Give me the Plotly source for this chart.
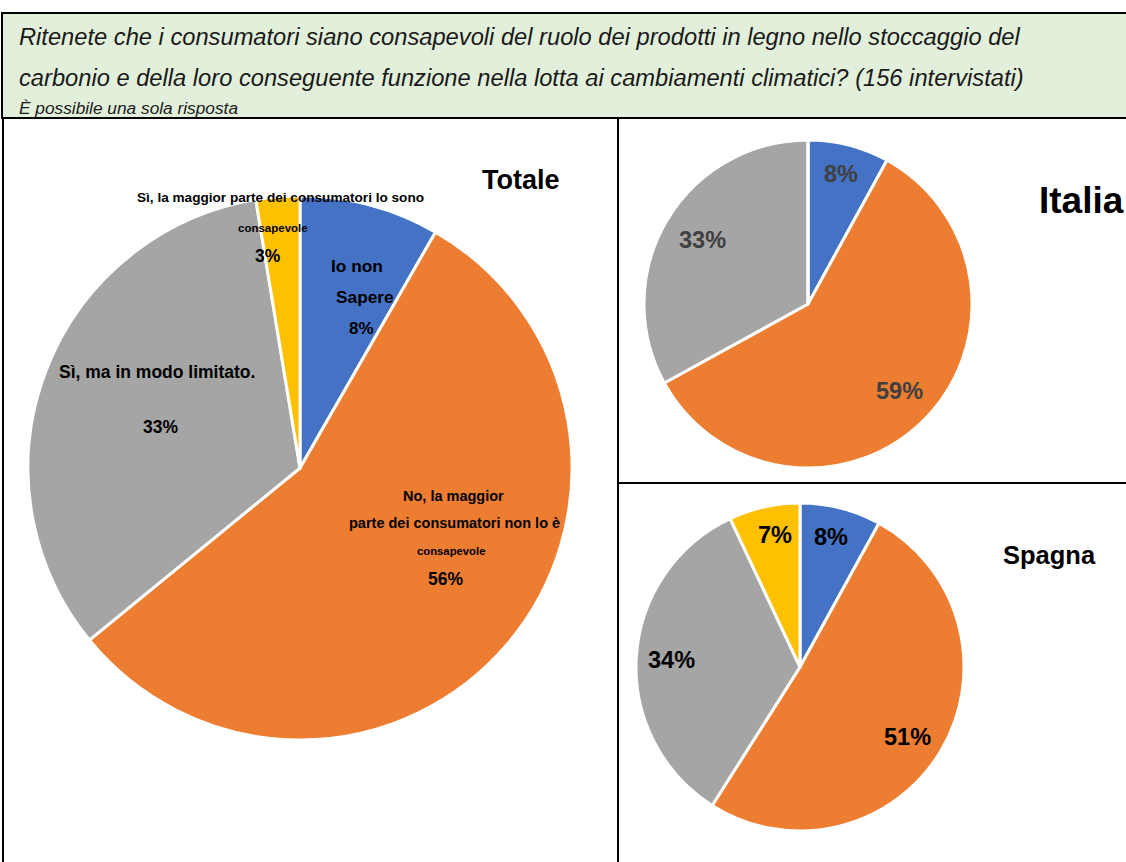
import plotly.graph_objects as go

W, H = 1126, 862

categories = [
    "Io non Sapere",
    "No, la maggior parte dei consumatori non lo è consapevole",
    "Sì, ma in modo limitato.",
    "Sì, la maggior parte dei consumatori lo sono consapevole",
]
colors = ["#4472C4", "#ED7D31", "#A5A5A5", "#FFC000"]
totale = [8.3, 55.8, 33.3, 2.6]
italia = [8, 59, 33, 0]
spagna = [8, 51, 34, 7]

title_l1 = "Ritenete che i consumatori siano consapevoli del ruolo dei prodotti in legno nello stoccaggio del"
title_l2 = "carbonio e della loro conseguente funzione nella lotta ai cambiamenti climatici? (156 intervistati)"
subtitle = "È possibile una sola risposta"

FONT = "Liberation Sans, Arial, sans-serif"


def dom(cx, cy, r):
    return dict(x=[(cx - r) / W, (cx + r) / W], y=[(H - (cy + r)) / H, (H - (cy - r)) / H])


def pct(v):
    return f"{round(v)}%"


fig = go.Figure()
for vals, (cx, cy, r) in [(totale, (300, 468, 272)), (italia, (808, 304, 164)), (spagna, (800, 667, 164))]:
    fig.add_trace(go.Pie(
        labels=categories, values=vals, sort=False, direction="clockwise", rotation=0,
        marker=dict(colors=colors, line=dict(color="white", width=3)),
        textinfo="none", hoverinfo="label+percent", showlegend=False,
        domain=dom(cx, cy, r),
    ))

shapes = [
    dict(type="rect", xref="paper", yref="paper", x0=2 / W, x1=1.01, y0=(H - 118) / H, y1=(H - 13) / H,
         fillcolor="#E2EFDA", line=dict(color="black", width=2), layer="below"),
    dict(type="rect", xref="paper", yref="paper", x0=3 / W, x1=618 / W, y0=-0.01, y1=(H - 118) / H,
         line=dict(color="black", width=2), fillcolor="rgba(0,0,0,0)"),
    dict(type="rect", xref="paper", yref="paper", x0=618 / W, x1=1.01, y0=-0.01, y1=(H - 118) / H,
         line=dict(color="black", width=2), fillcolor="rgba(0,0,0,0)"),
    dict(type="line", xref="paper", yref="paper", x0=618 / W, x1=1.01, y0=(H - 483) / H, y1=(H - 483) / H,
         line=dict(color="black", width=2)),
]

ann = []


def A(text, x, y, size, color="black", bold=True, italic=False, xanchor="center"):
    t = text
    if bold:
        t = "<b>" + t + "</b>"
    if italic:
        t = "<i>" + t + "</i>"
    ann.append(dict(text=t, x=x / W, y=(H - y) / H, xref="paper", yref="paper", showarrow=False,
                    xanchor=xanchor, yanchor="middle", font=dict(family=FONT, size=size, color=color)))


A(title_l1, 17, 37, 23.7, color="#1a1a1a", bold=False, italic=True, xanchor="left")
A(title_l2, 17, 78, 23.7, color="#1a1a1a", bold=False, italic=True, xanchor="left")
A(subtitle, 17, 108, 17.3, color="#1a1a1a", bold=False, italic=True, xanchor="left")

A("Totale", 521, 180, 27)
A("Italia", 1081, 200, 37)
A("Spagna", 1049, 555, 25.5)

# Totale labels
A("Sì, la maggior parte dei consumatori lo sono", 280, 197, 13.6)
A("consapevole", 273, 228, 11.5)
A(pct(totale[3]), 268, 256, 17.5)
A("Io non", 357, 266, 17.3)
A("Sapere", 364.5, 297, 17.3)
A(pct(totale[0]), 361, 328, 17)
A("Sì, ma in modo limitato.", 157, 372, 17.5)
A(pct(totale[2]), 160.5, 427, 17.5)
A("No, la maggior", 453, 496, 14.5)
A("parte dei consumatori non lo è", 455, 523, 14.5)
A("consapevole", 451, 551, 11.3)
A(pct(totale[1]), 445, 579, 17.5)

# Italia labels
A(pct(italia[0]), 841, 174, 23.5, color="#404040")
A(pct(italia[2]), 702, 240, 23.5, color="#404040")
A(pct(italia[1]), 899.5, 391, 23.5, color="#404040")

# Spagna labels
A(pct(spagna[3]), 774.5, 535, 23.5)
A(pct(spagna[0]), 830.5, 537, 23.5)
A(pct(spagna[2]), 671.5, 660, 23.5)
A(pct(spagna[1]), 907.5, 737, 23.5)

fig.update_layout(
    width=W, height=H, margin=dict(l=0, r=0, t=0, b=0),
    paper_bgcolor="white", plot_bgcolor="white",
    shapes=shapes, annotations=ann,
)
fig.write_html("out.html", config={"displayModeBar": False},
               post_script="document.body.style.margin='0';document.body.style.overflow='hidden';")
